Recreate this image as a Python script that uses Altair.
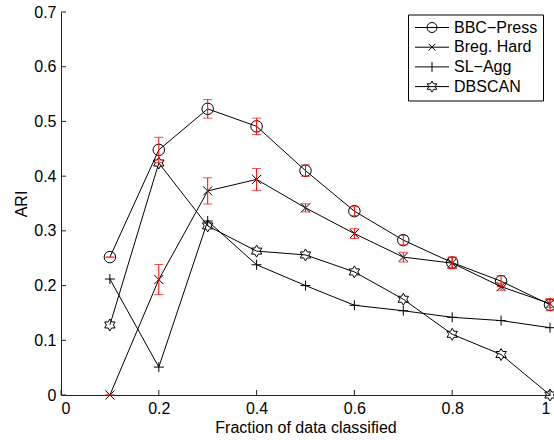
import math
import altair as alt
import pandas as pd

# ---------------- data ----------------
x_vals = [0.1, 0.2, 0.3, 0.4, 0.5, 0.6, 0.7, 0.8, 0.9, 1.0]
series_names = ["BBC\u2212Press", "Breg. Hard", "SL\u2212Agg", "DBSCAN"]
bbc = [0.252, 0.448, 0.523, 0.491, 0.410, 0.336, 0.283, 0.242, 0.208, 0.165]
bbc_err = [0.0, 0.023, 0.017, 0.015, 0.0105, 0.008, 0.0085, 0.0105, 0.010, 0.011]
breg = [0.0, 0.211, 0.373, 0.394, 0.342, 0.295, 0.252, 0.241, 0.198, 0.167]
breg_err = [0.0, 0.0275, 0.024, 0.020, 0.0075, 0.009, 0.009, 0.010, 0.0065, 0.007]
sl_agg = [0.212, 0.051, 0.318, 0.238, 0.200, 0.164, 0.154, 0.142, 0.136, 0.123]
dbscan = [0.128, 0.424, 0.309, 0.263, 0.256, 0.225, 0.175, 0.111, 0.074, 0.0]
x_ticks = [0, 0.2, 0.4, 0.6, 0.8, 1.0]
y_ticks = [0, 0.1, 0.2, 0.3, 0.4, 0.5, 0.6, 0.7]
x_title = "Fraction of data classified"
y_title = "ARI"

# ---------------- styling ----------------
FONT = "Liberation Sans"
FS = 16
W, H = 489, 383


def hexagram(r=1.0, cx=0.0):
    pts = []
    for k in range(12):
        ang = math.radians(90 + 30 * k)
        rr = r if k % 2 == 0 else r / math.sqrt(3)
        pts.append((cx + rr * math.cos(ang), -rr * math.sin(ang)))
    return "M" + "L".join(f"{px:.3f},{py:.3f}" for px, py in pts) + "Z"


def circle(r):
    return f"M{r},0A{r},{r} 0 1,1 {-r},0A{r},{r} 0 1,1 {r},0Z"


marker_paths = [
    circle(1.15),
    "M-0.9,-0.9L0.9,0.9M-0.9,0.9L0.9,-0.9",
    "M-1,0L1,0M0,-1L0,1",
    hexagram(1.2),
]
LINE = "M-3.4,0L3.4,0"
legend_paths = [
    LINE + circle(1.0),
    LINE + "M-0.65,-0.65L0.65,0.65M-0.65,0.65L0.65,-0.65",
    LINE + "M0,-1L0,1",
    LINE + hexagram(1.1),
]

# ---------------- tables ----------------
rows = []
for name, vals in zip(series_names, [bbc, breg, sl_agg, dbscan]):
    for xv, yv in zip(x_vals, vals):
        rows.append({"x": xv, "y": yv, "series": name})
df = pd.DataFrame(rows)

err_rows = []
for name, vals, errs in [(series_names[0], bbc, bbc_err), (series_names[1], breg, breg_err)]:
    for xv, yv, ev in zip(x_vals, vals, errs):
        err_rows.append({"x": xv, "lo": yv - ev, "hi": yv + ev, "series": name})
err_df = pd.DataFrame(err_rows)

xt_df = pd.DataFrame({"t": x_ticks})
yt_df = pd.DataFrame({"t": y_ticks})

xscale = alt.Scale(domain=[0, 1], nice=False, zero=False)
yscale = alt.Scale(domain=[0, 0.7], nice=False, zero=False)

x_axis = alt.Axis(values=x_ticks, format="~g", title=x_title, grid=False, ticks=False,
                  labelPadding=5, titlePadding=3)
y_axis = alt.Axis(values=y_ticks, format="~g", title=y_title, grid=False, ticks=False,
                  labelPadding=5, titlePadding=4)

base = alt.Chart(df)

lines = base.mark_line(color="black", strokeWidth=1).encode(
    x=alt.X("x:Q", scale=xscale, axis=x_axis),
    y=alt.Y("y:Q", scale=yscale, axis=y_axis),
    detail="series:N",
)

points = base.mark_point(filled=False, color="black", strokeWidth=1, size=100, opacity=1).encode(
    x=alt.X("x:Q", scale=xscale),
    y=alt.Y("y:Q", scale=yscale),
    shape=alt.Shape("series:N", scale=alt.Scale(domain=series_names, range=marker_paths), legend=None),
)

legend_layer = base.mark_point(filled=False, color="black", strokeWidth=1, size=100).encode(
    x=alt.X("x:Q", scale=xscale),
    y=alt.Y("y:Q", scale=yscale),
    shape=alt.Shape(
        "series:N",
        scale=alt.Scale(domain=series_names, range=legend_paths),
        legend=alt.Legend(
            title=None, orient="none", legendX=347, legendY=2.5,
            labelFont=FONT, labelFontSize=FS, labelColor="black",
            symbolSize=100, symbolStrokeColor="black", symbolFillColor="transparent",
            symbolStrokeWidth=1, symbolOpacity=1, symbolOffset=11, labelOffset=14,
            rowPadding=3.7, padding=5, strokeColor="black", fillColor="white",
            cornerRadius=0,
        ),
    ),
).transform_filter("false")

err_rule = alt.Chart(err_df).mark_rule(color="#ff0000", strokeWidth=1).encode(
    x=alt.X("x:Q", scale=xscale),
    y=alt.Y("lo:Q", scale=yscale),
    y2="hi:Q",
)
cap_lo = alt.Chart(err_df).mark_tick(color="#ff0000", orient="horizontal", size=9, thickness=1).encode(
    x=alt.X("x:Q", scale=xscale),
    y=alt.Y("lo:Q", scale=yscale),
)
cap_hi = alt.Chart(err_df).mark_tick(color="#ff0000", orient="horizontal", size=9, thickness=1).encode(
    x=alt.X("x:Q", scale=xscale),
    y=alt.Y("hi:Q", scale=yscale),
)

ytick_marks = alt.Chart(yt_df).mark_rule(color="#222222", strokeWidth=1).encode(
    y=alt.Y("t:Q", scale=yscale),
    x=alt.value(0),
    x2=alt.value(5),
)
xtick_marks = alt.Chart(xt_df).mark_rule(color="#222222", strokeWidth=1).encode(
    x=alt.X("t:Q", scale=xscale),
    y=alt.value(H),
    y2=alt.value(H - 5),
)

chart = alt.layer(
    lines, points, err_rule, cap_lo, cap_hi, ytick_marks, xtick_marks, legend_layer
).resolve_scale(shape="independent").properties(
    width=W, height=H,
    autosize=alt.AutoSizeParams(type="none"),
    padding={"left": 61, "top": 12, "right": 4, "bottom": 45},
    background="white",
).configure_view(stroke=None).configure_axis(
    labelFont=FONT, labelFontSize=FS, labelColor="black",
    titleFont=FONT, titleFontSize=FS, titleFontWeight="normal", titleColor="black",
    domainColor="#222222", domainWidth=1,
)

chart.save("out.html", embed_options={"renderer": "svg", "actions": False})
